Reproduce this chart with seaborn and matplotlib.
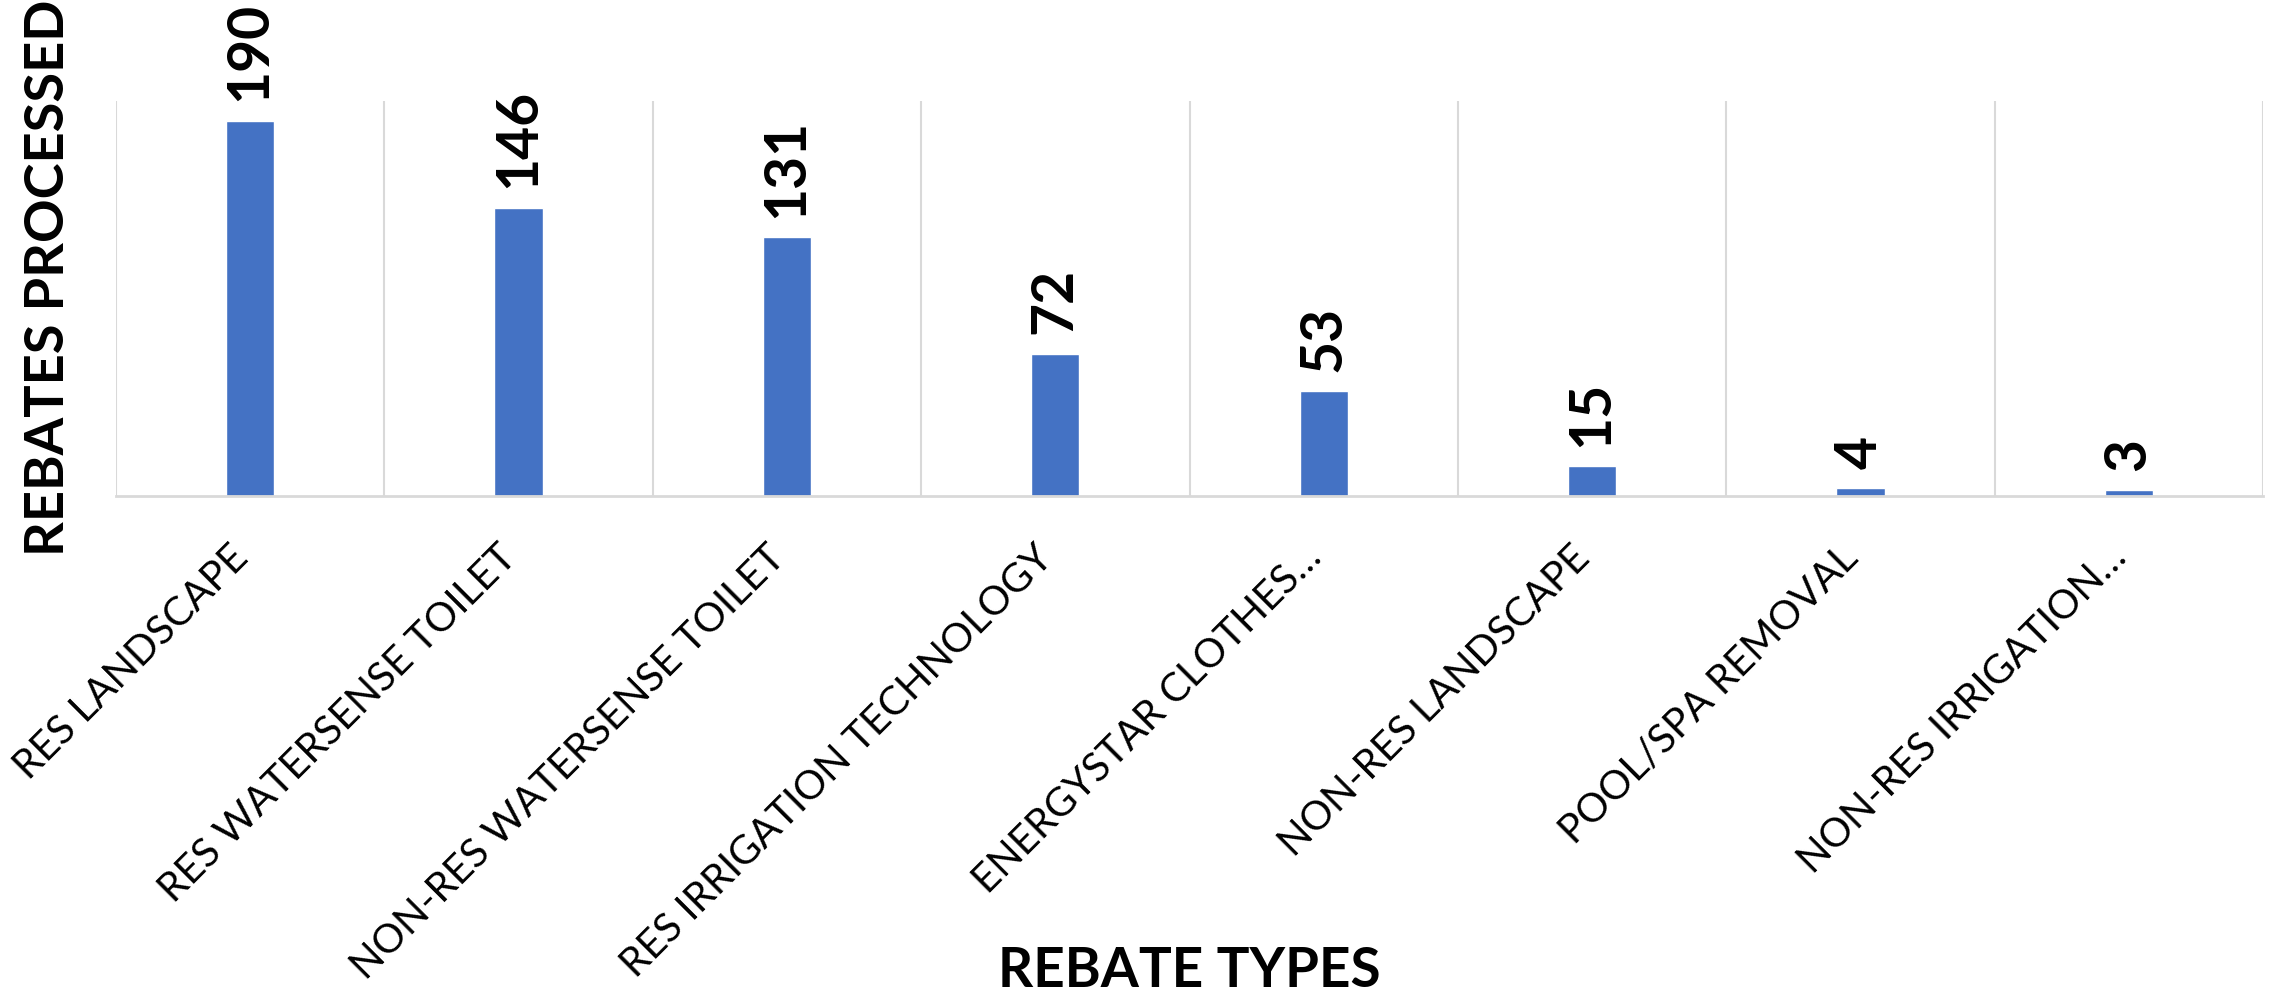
import matplotlib
matplotlib.use("Agg")
import matplotlib.pyplot as plt
import seaborn as sns
import pandas as pd

categories = [
    "RES LANDSCAPE",
    "RES WATERSENSE TOILET",
    "NON-RES WATERSENSE TOILET",
    "RES IRRIGATION TECHNOLOGY",
    "ENERGYSTAR CLOTHES…",
    "NON-RES LANDSCAPE",
    "POOL/SPA REMOVAL",
    "NON-RES IRRIGATION…",
]
rebates = [190, 146, 131, 72, 53, 15, 4, 3]

df = pd.DataFrame({"type": categories, "count": rebates})

sns.set_style("white")
plt.rcParams["font.family"] = ["Lato", "DejaVu Sans"]
plt.rcParams["text.color"] = "black"
plt.rcParams["axes.labelcolor"] = "black"
plt.rcParams["xtick.color"] = "black"

fig, ax = plt.subplots(figsize=(22.72, 9.97), dpi=100)
fig.subplots_adjust(left=116 / 2272, right=2263 / 2272, top=1 - 101 / 997, bottom=1 - 496 / 997)

sns.barplot(data=df, x="type", y="count", color="#4472C4", saturation=1, width=0.18, ax=ax)

ax.bar_label(ax.containers[0], rotation=90, padding=14, fontsize=41, fontweight="bold")

ax.set_ylim(0, 200)
ax.set_yticks([])
ax.set_xlim(-0.5, len(categories) - 0.5)

# vertical separators between categories
grid = "#D9D9D9"
for k in range(len(categories) + 1):
    ax.axvline(k - 0.5, color=grid, lw=1.5, zorder=0)
for side in ["top", "left", "right"]:
    ax.spines[side].set_visible(False)
ax.spines["bottom"].set_color(grid)
ax.spines["bottom"].set_linewidth(2)

ax.tick_params(axis="x", length=0, pad=46)
plt.setp(ax.get_xticklabels(), rotation=45, ha="right", va="baseline",
         rotation_mode="anchor", fontsize=29)

ax.set_ylabel("REBATES PROCESSED", fontsize=39, fontweight="bold")
ax.yaxis.set_label_coords(-0.020, 0.553)
ax.set_xlabel("REBATE TYPES", fontsize=39.5, fontweight="bold")
ax.xaxis.set_label_coords(0.5, -1.14)

fig.savefig("out.png", dpi=100)
